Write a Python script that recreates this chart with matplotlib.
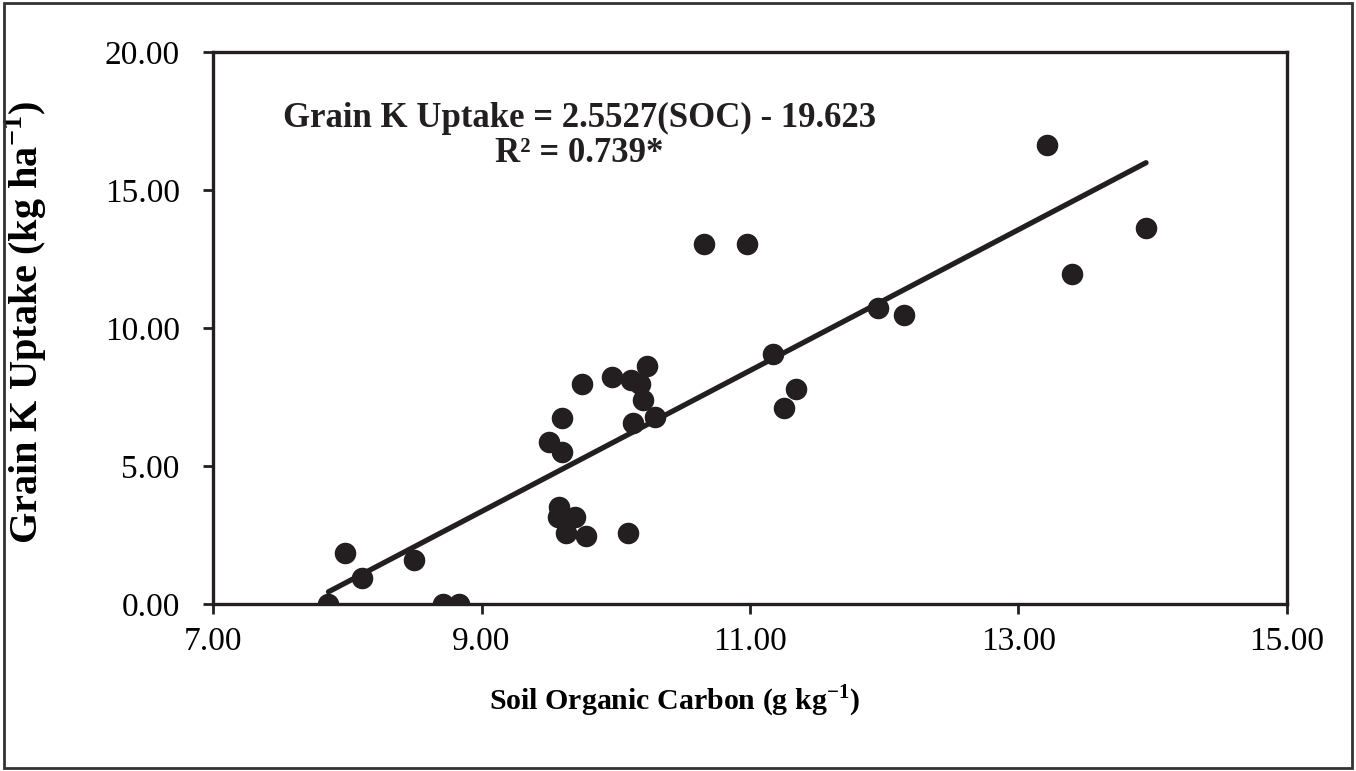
import numpy as np
import matplotlib.pyplot as plt
from matplotlib.patches import Rectangle

plt.rcParams['font.family'] = ['Liberation Serif', 'DejaVu Serif']
plt.rcParams['mathtext.fontset'] = 'custom'
plt.rcParams['mathtext.rm'] = 'Liberation Serif'
plt.rcParams['mathtext.bf'] = 'Liberation Serif:bold'

# soil organic carbon (g/kg) and grain K uptake (kg/ha)
soc = [7.86, 7.98, 8.11, 8.50, 8.71, 8.83,
       9.50, 9.57, 9.58, 9.60, 9.60, 9.63, 9.70, 9.75, 9.78, 9.97,
       10.09, 10.11, 10.13, 10.18, 10.20, 10.23, 10.29,
       10.66, 10.98, 11.17, 11.25, 11.34, 11.95, 12.15,
       13.21, 13.40, 13.95]
k_uptake = [0.00, 1.83, 0.94, 1.59, 0.00, 0.00,
            5.86, 3.16, 3.51, 6.73, 5.51, 2.58, 3.16, 7.97, 2.46, 8.22,
            2.58, 8.12, 6.55, 7.97, 7.39, 8.62, 6.78,
            13.04, 13.04, 9.06, 7.10, 7.79, 10.72, 10.47,
            16.63, 11.96, 13.62]

slope, intercept = 2.5527, -19.623
x_ticks = [7, 9, 11, 13, 15]
y_ticks = [0, 5, 10, 15, 20]

fig = plt.figure(figsize=(13.56, 7.71), dpi=100)
ax = fig.add_axes([0.1571, 0.2166, 0.7920, 0.7160])

ax.plot(soc, k_uptake, 'o', color='#231f20', ms=14.5, zorder=3)
xl = np.array([min(soc), max(soc)])
ax.plot(xl, slope * xl + intercept, color='#231f20', lw=3.8,
        solid_capstyle='round', zorder=2)

ax.set_xlim(7, 15)
ax.set_ylim(0, 20)
ax.set_xticks(x_ticks)
ax.set_yticks(y_ticks)
ax.set_xticklabels([f'{v:.2f}' for v in x_ticks], fontsize=24)
ax.set_yticklabels([f'{v:.2f}' for v in y_ticks], fontsize=24)
ax.tick_params(axis='both', direction='out', length=7, width=2, color='#231f20')
ax.tick_params(axis='y', pad=17)
ax.tick_params(axis='x', pad=9)
for s in ax.spines.values():
    s.set_linewidth(2.4)
    s.set_color('#231f20')

ax.set_xlabel('Soil Organic Carbon (g kg$^{\\mathbf{-1}}$)', fontsize=21.5, fontweight='bold')
ax.xaxis.set_label_coords(0.43, -0.143)
ax.set_ylabel('Grain K Uptake (kg ha$^{\\mathbf{-1}}$)', fontsize=29, fontweight='bold')
ax.yaxis.set_label_coords(-0.153, 0.51)

ax.text(9.73, 16.96, 'Grain K Uptake = 2.5527(SOC) - 19.623\nR² = 0.739*',
        ha='center', va='center', fontsize=25, fontweight='bold',
        linespacing=1.05, color='#231f20')

fig.patches.append(Rectangle((0.003, 0.004), 0.994, 0.992, transform=fig.transFigure,
                             fill=False, lw=2, edgecolor='#333333'))

fig.savefig('out.png', dpi=100)
